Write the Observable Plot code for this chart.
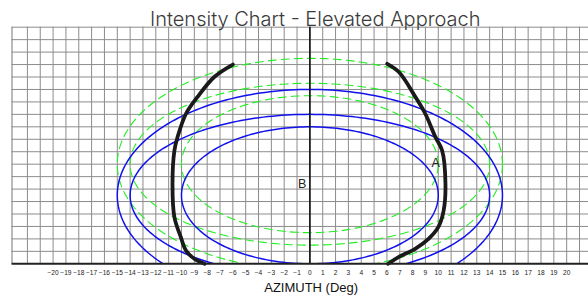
<!DOCTYPE html>
<html>
<head>
<meta charset="utf-8">
<script src="https://cdn.jsdelivr.net/npm/d3@7"></script>
<script src="https://cdn.jsdelivr.net/npm/@observablehq/plot@0.6"></script>
<style>
  html, body { margin: 0; padding: 0; background: #fff; }
  #chart svg { display: block; }
</style>
</head>
<body>
<div id="chart"></div>
<script>
// ---- Data ----
const titleText = "Intensity Chart - Elevated Approach";
const xAxisLabel = "AZIMUTH (Deg)";
const xTickLabels = [-20,-19,-18,-17,-16,-15,-14,-13,-12,-11,-10,-9,-8,-7,-6,-5,-4,-3,-2,-1,0,1,2,3,4,5,6,7,8,9,10,11,12,13,14,15,16,17,18,19,20];

// Isocandela ellipses: semi-axes (azimuth, elevation) and centre elevation
const ellipseSemiX = [10, 14, 15];
const ellipseSemiY = [5.5, 6.5, 8.5];
const blueCentreY = 5.5;
const greenCentreY = 8;

// Thick black beam boundaries
const leftBeamX  = [-6.0, -7.45, -8.75, -9.65, -10.3, -10.55, -10.7, -10.55, -10.05, -9.65, -9.0, -8.2];
const leftBeamY  = [16.0, 15.0, 13.4, 12.05, 10.2, 9.1, 6.43, 3.74, 2.14, 1.07, 0.4, 0];
const rightBeamX = [6.02, 6.93, 8.22, 8.99, 9.78, 10.3, 10.56, 10.42, 10.0, 9.24, 8.2, 6.9, 6.1];
const rightBeamY = [16.06, 15.4, 13.4, 12.05, 10.17, 9.1, 6.43, 4.28, 2.94, 2.0, 1.2, 0.53, 0];

const pointLabels = ["A", "B"];
const pointLabelX = [9.8, -0.6];
const pointLabelY = [8.1, 6.4];

// ---- Build tables ----
const xMin = -23.2, xMax = 21.7, yMin = 0, yMax = 19;
function ellipse(a, b, cy, id) {
  const n = 240;
  return d3.range(n + 1).map(i => {
    const t = (i / n) * 2 * Math.PI;
    return {x: a * Math.cos(t), y: cy + b * Math.sin(t), id};
  });
}
const blueEllipses = ellipseSemiX.flatMap((a, i) => ellipse(a, ellipseSemiY[i], blueCentreY, i));
const greenEllipses = ellipseSemiX.flatMap((a, i) => ellipse(a, ellipseSemiY[i], greenCentreY, i));
const leftBeam = leftBeamX.map((x, i) => ({x, y: leftBeamY[i]}));
const rightBeam = rightBeamX.map((x, i) => ({x, y: rightBeamY[i]}));
const labels = pointLabels.map((t, i) => ({t, x: pointLabelX[i], y: pointLabelY[i]}));

const chart = Plot.plot({
  width: 588,
  height: 303,
  marginLeft: 11.5,
  marginRight: 0,
  marginTop: 26.7,
  marginBottom: 39.7,
  style: {fontFamily: "Liberation Sans, Arial, sans-serif", background: "#fff"},
  x: {domain: [xMin, xMax], axis: null},
  y: {domain: [yMin, yMax], axis: null},
  marks: [
    Plot.ruleX(d3.range(-22, 22), {stroke: "#8c8c8c", strokeWidth: 1, strokeOpacity: 1}),
    Plot.ruleX([xMin], {stroke: "#8c8c8c", strokeWidth: 1.2}),
    Plot.ruleY(d3.range(1, 20), {stroke: "#8c8c8c", strokeWidth: 1}),
    Plot.line(greenEllipses, {x: "x", y: "y", z: "id", stroke: "#22ee22", strokeWidth: 1.1, strokeDasharray: "8,5", clip: true}),
    Plot.line(blueEllipses, {x: "x", y: "y", z: "id", stroke: "#1111ee", strokeWidth: 1.5, clip: true}),
    Plot.ruleX([0], {stroke: "#111", strokeWidth: 1.6}),
    Plot.line(leftBeam, {x: "x", y: "y", stroke: "#1a1a1a", strokeWidth: 3.8, curve: "catmull-rom"}),
    Plot.line(rightBeam, {x: "x", y: "y", stroke: "#1a1a1a", strokeWidth: 3.8, curve: "catmull-rom"}),
    Plot.ruleY([0], {stroke: "#222", strokeWidth: 2}),
    Plot.text(labels, {x: "x", y: "y", text: "t", fontSize: 12.5, fill: "#222"}),
    Plot.axisX({ticks: xTickLabels, tickSize: 0, tickPadding: 6.5, fontSize: 6.6, fill: "#222", label: null}),
    Plot.text([xAxisLabel], {x: 0.1, frameAnchor: "bottom", dy: 28, text: d => d, fontSize: 13, fill: "#111"}),
    Plot.text([titleText], {frameAnchor: "top", dx: 15, dy: -1.5, lineAnchor: "bottom", text: d => d,
      fontSize: 20, fill: "#3a3a3a", fontFamily: "Inter, Lato, sans-serif", fontWeight: 350})
  ]
});
document.getElementById("chart").appendChild(chart);
</script>
</body>
</html>
